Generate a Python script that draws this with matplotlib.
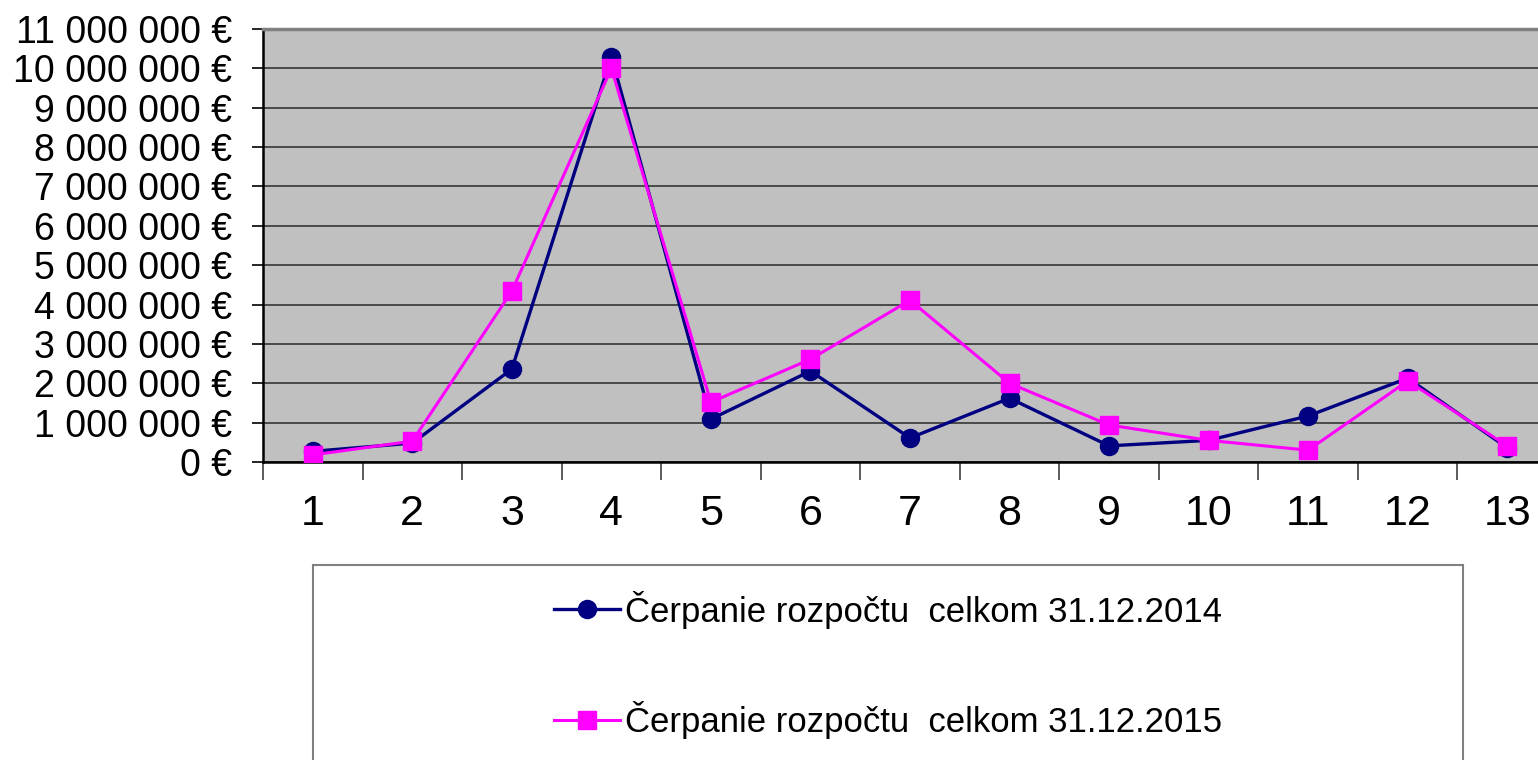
import numpy as np
import matplotlib.pyplot as plt
from matplotlib.patches import Rectangle
from matplotlib.ticker import FuncFormatter, MultipleLocator

plt.rcParams['font.family'] = ['Liberation Sans', 'DejaVu Sans']

# Údaje
kategorie = list(range(1, 14))
cerpanie_2014 = [270000, 480000, 2360000, 10300000, 1090000, 2310000, 610000,
                 1620000, 410000, 550000, 1170000, 2130000, 360000]
cerpanie_2015 = [180000, 530000, 4340000, 10000000, 1520000, 2610000, 4110000,
                 2000000, 940000, 550000, 300000, 2060000, 410000]
nazov_2014 = "Čerpanie rozpočtu  celkom 31.12.2014"
nazov_2015 = "Čerpanie rozpočtu  celkom 31.12.2015"

W, H = 1538, 760
fig = plt.figure(figsize=(W / 100, H / 100), dpi=100)

# os presahuje pravý okraj obrázka
left, right, top, bottom = 263, 1557, 29, 462
ax = fig.add_axes([left / W, 1 - bottom / H, (right - left) / W, (bottom - top) / H])
ax.set_facecolor('#C0C0C0')

ax.plot(kategorie, cerpanie_2014, color='#000080', lw=2.4, marker='o',
        markersize=13, label=nazov_2014, zorder=3)
ax.plot(kategorie, cerpanie_2015, color='#FF00FF', lw=2.2, marker='s',
        markersize=13, label=nazov_2015, zorder=4)

ax.set_xlim(0.5, 13.5)
ax.set_ylim(0, 11000000)

ax.yaxis.set_major_locator(MultipleLocator(1000000))
ax.yaxis.set_major_formatter(FuncFormatter(
    lambda v, p: f"{int(v):,}".replace(",", " ") + " €"))
ax.grid(axis='y', color='#404040', lw=1.3)
ax.set_axisbelow(True)

ax.set_xticks(kategorie)
ax.set_xticklabels([str(k) for k in kategorie])
ax.set_xticks(np.arange(0.5, 14, 1), minor=True)
ax.tick_params(axis='x', which='major', length=0, labelsize=31, pad=23)
ax.tick_params(axis='x', which='minor', length=13, width=1.2, color='#404040')
ax.tick_params(axis='y', length=8, width=1.2, labelsize=27, pad=14)

for s in ['left', 'bottom']:
    ax.spines[s].set_color('black')
    ax.spines[s].set_linewidth(1.8)
ax.spines['top'].set_color('#808080')
ax.spines['top'].set_linewidth(2.5)
ax.spines['right'].set_visible(False)

# rámik legendy
fig.patches.append(Rectangle((313 / W, -0.05), (1463 - 313) / W, 1 - 565 / H + 0.05,
                             transform=fig.transFigure, facecolor='white',
                             edgecolor='#808080', lw=1.5))

fig.legend(loc='center', bbox_to_anchor=(888 / W, 1 - 665 / H), frameon=False,
           fontsize=25, handlelength=1.9, handletextpad=0.15, labelspacing=2.1)

fig.savefig('out.png', dpi=100)
